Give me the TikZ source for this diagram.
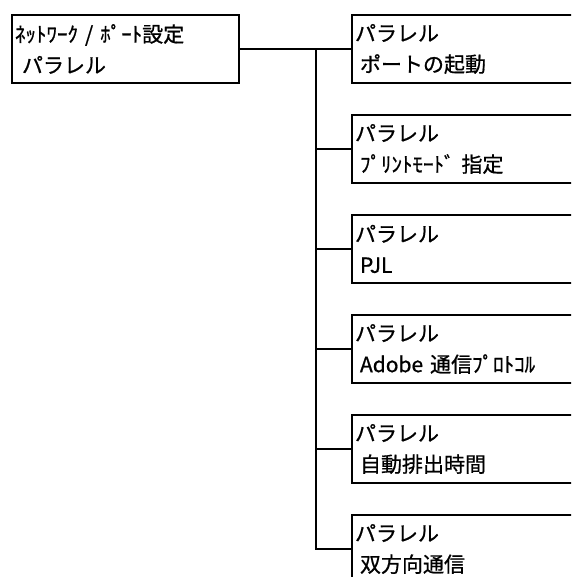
\documentclass[tikz,border=0pt]{standalone}
\usepackage{fontspec}
\setmainfont{Noto Sans CJK JP}[FakeBold=0.8]
\usetikzlibrary{positioning,calc}

\begin{document}
\begin{tikzpicture}[x=1pt, y=-1pt,
  mbox/.style={rectangle, draw=black, line width=2pt, anchor=north west,
               minimum height=68pt, inner xsep=3pt, inner ysep=0pt,
               font=\fontsize{21}{31}\selectfont, align=left},
  rootbox/.style={mbox, minimum width=227pt, text width=221pt},
  subbox/.style={mbox, minimum width=260pt, text width=254pt},
  link/.style={draw=black, line width=2pt}
]
\clip (0,0) rectangle (571,577);

% Root node
\node[rootbox] (root) at (11,14) {ﾈｯﾄﾜｰｸ / ﾎﾟｰﾄ設定\\\hspace{7pt}パラレル};

% Sub nodes
\node[subbox] (sub1) at (351,14)  {パラレル\\\hspace{5pt}ポートの起動};
\node[subbox] (sub2) at (351,114) {パラレル\\\hspace{5pt}ﾌﾟﾘﾝﾄﾓｰﾄﾞ 指定};
\node[subbox] (sub3) at (351,214) {パラレル\\\hspace{5pt}PJL};
\node[subbox] (sub4) at (351,314) {パラレル\\\hspace{5pt}Adobe 通信ﾌﾟﾛﾄｺﾙ};
\node[subbox] (sub5) at (351,414) {パラレル\\\hspace{5pt}自動排出時間};
\node[subbox] (sub6) at (351,514) {パラレル\\\hspace{5pt}双方向通信};

% Connectors
\coordinate (fork) at ($(root.east)+(76,0)$);
\draw[link] (root.east) -- (sub1.west);
\draw[link] (fork) |- (sub6.west);
\foreach \i in {2,...,5}
  \draw[link] (fork |- sub\i.west) -- (sub\i.west);
\end{tikzpicture}
\end{document}
